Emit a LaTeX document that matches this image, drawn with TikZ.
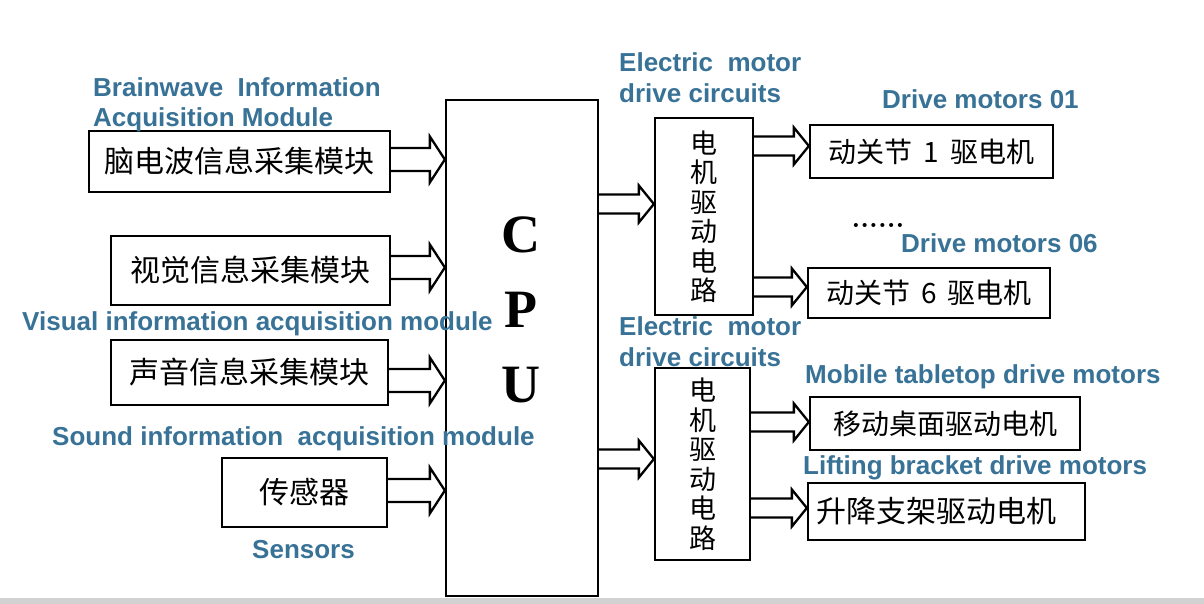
\documentclass[tikz,border=0pt]{standalone}
\usepackage{fontspec}
\usepackage{xcolor}
\usetikzlibrary{calc}
\newfontfamily\cjk{Noto Sans CJK SC}
\newfontfamily\lblfont{Liberation Sans}
\newfontfamily\cpufont{Liberation Serif}
\definecolor{lblblue}{RGB}{56,114,150}

\begin{document}
\begin{tikzpicture}[
    x=1pt, y=-1pt,
    box/.style={rectangle, draw, line width=2.3pt, inner sep=0pt, font=\cjk\fontsize{30}{30}\selectfont},
    motorbox/.style={box, font=\cjk\fontsize{28}{28}\selectfont},
    vtext/.style={align=center, font=\cjk\fontsize{27}{29.5}\selectfont},
    lbl/.style={text=lblblue, font=\lblfont\bfseries\fontsize{26}{30.5}\selectfont, align=left, inner sep=0pt},
    fat/.style 2 args={line width=2.3pt, line join=miter, to path={let \p1=(\tikztostart), \p2=(\tikztotarget) in
        (\x1,\y1+#1) -- (\x2-15pt,\y1+#1) -- (\x2-15pt,\y1+#2) -- (\x2,\y1) -- (\x2-15pt,\y1-#2) -- (\x2-15pt,\y1-#1) -- (\x1,\y1-#1)}},
    fatin/.style={fat={11.5pt}{23pt}},
    fatout/.style={fat={9.5pt}{18.5pt}}
]
    \useasboundingbox (0,0) rectangle (1204,604);
    \fill[white] (0,0) rectangle (1204,604);
    \fill[gray!35] (0,598) rectangle (1204,604);

    % Acquisition modules
    \node[box, minimum width=301pt, minimum height=61pt] (brain) at (239.5,161.5) {脑电波信息采集模块};
    \node[box, minimum width=279pt, minimum height=69pt] (vision) at (250.5,270.5) {视觉信息采集模块};
    \node[box, minimum width=277pt, minimum height=65pt] (sound) at (249.5,372.5) {声音信息采集模块};
    \node[box, minimum width=165pt, minimum height=69pt] (sensor) at (304.5,492.5) {传感器};

    % CPU
    \node[box, minimum width=152pt, minimum height=496pt] (cpu) at (522,348) {};
    \node[font=\cpufont\bfseries\fontsize{54}{75}\selectfont, align=center] (cpulbl) at (521,310) {C\\P\\U};

    % Drive circuits
    \node[box, vtext, minimum width=98pt, minimum height=197pt] (drv1) at (704,216.5) {电\\机\\驱\\动\\电\\路};
    \node[box, vtext, minimum width=95pt, minimum height=192pt] (drv2) at (702.5,464) {电\\机\\驱\\动\\电\\路};

    % Motors
    \node[motorbox, minimum width=243pt, minimum height=53pt] (motor1) at (931.5,151.5) {动关节\ \,1\ \,驱电机};
    \node[font=\bfseries\fontsize{28}{28}\selectfont] (dots) at (878,225) {......};
    \node[motorbox, minimum width=242pt, minimum height=50pt] (motor6) at (929,293) {动关节\ \,6\ \,驱电机};
    \node[motorbox, minimum width=270pt, minimum height=53pt] (mobile) at (945,423.5) {移动桌面驱动电机};
    \node[box, minimum width=277pt, minimum height=57pt] (lift) at (946.5,511.5) {\makebox[277pt][l]{\hspace*{8pt}升降支架驱动电机}};

    % Labels
    \node[lbl, anchor=north west] (brainlbl) at (93,77) {Brainwave\ \ Information\\Acquisition Module};
    \node[lbl, anchor=base west] (visionlbl) at (22,330) {Visual information acquisition module};
    \node[lbl, anchor=base west] (soundlbl) at (52,445) {Sound information\ \ acquisition module};
    \node[lbl, anchor=base west] (sensorlbl) at (252,558) {Sensors};
    \node[lbl, anchor=north west] (drvlbla) at (619,52.5) {Electric\ \ motor\\drive circuits};
    \node[lbl, anchor=north west] (drvlblb) at (619,316.5) {Electric\ \ motor\\drive circuits};
    \node[lbl, anchor=base west] (motor1lbl) at (882,109) {Drive motors 01};
    \node[lbl, anchor=base west] (motor6lbl) at (901,252) {Drive motors 06};
    \node[lbl, anchor=base west] (mobilelbl) at (805,383) {Mobile tabletop drive motors};
    \node[lbl, anchor=base west] (liftlbl) at (803,474) {Lifting bracket drive motors};

    % Arrows
    \draw[fatin] ([yshift=2pt]brain.east) to (cpu.west);
    \draw[fatin] ([yshift=3pt]vision.east) to (cpu.west);
    \draw[fatin] ([yshift=-8pt]sound.east) to (cpu.west);
    \draw[fatin] ([yshift=2pt]sensor.east) to (cpu.west);
    \draw[fatout] ([yshift=12.5pt]cpu.east |- drv1) to (drv1.west);
    \draw[fatout] ([yshift=5pt]cpu.east |- drv2) to (drv2.west);
    \draw[fatout] ([yshift=5.5pt]drv1.east |- motor1) to (motor1.west);
    \draw[fatout] ([yshift=6pt]drv1.east |- motor6) to (motor6.west);
    \draw[fatout] ([yshift=1.5pt]drv2.east |- mobile) to (mobile.west);
    \draw[fatout] ([yshift=3.5pt]drv2.east |- lift) to (lift.west);

\end{tikzpicture}
\end{document}
